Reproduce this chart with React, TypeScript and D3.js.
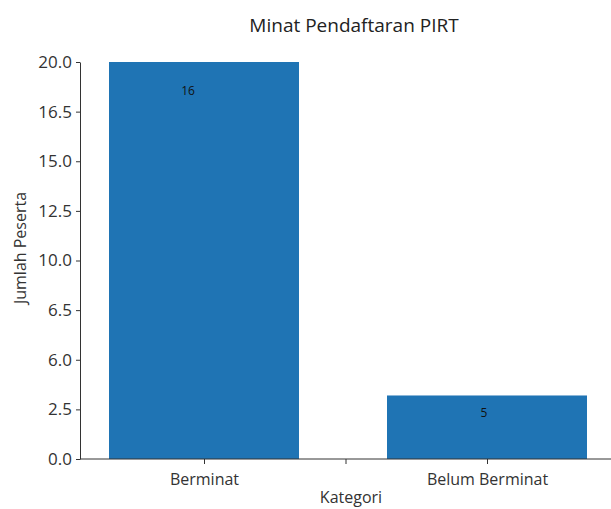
import React, { useEffect, useRef } from 'react';
import * as d3 from 'd3';

// chart values
const categories = ['Berminat', 'Belum Berminat'];
const xTickLabels = ['Berminat', '', 'Belum Berminat'];
const barValues = [20, 3.2];
const barLabels = ['16', '5'];
const yTickValues = [0, 2.5, 5, 7.5, 10, 12.5, 15, 17.5, 20];
const yTickLabels = ['0.0', '2.5', '6.0', '6.5', '10.0', '12.5', '15.0', '16.5', '20.0'];

const W = 611;
const H = 509;
const FONT = '"Open Sans", "Noto Sans", sans-serif';
const barWidths = [190, 200];
const labelShift = [[-16, 29], [-3, 17]];

const App = () => {
    const chartRef = useRef<SVGSVGElement>(null);

    useEffect(() => {
        const svg = d3.select(chartRef.current);
        svg.selectAll('*').remove();

        const xScale = d3.scalePoint<string>()
            .domain(xTickLabels.map((d, i) => i + ':' + d))
            .range([204, 487]);
        const xOf = (name: string) => xScale(xTickLabels.indexOf(name) + ':' + name) as number;

        const yScale = d3.scaleLinear()
            .domain([0, 20])
            .range([459, 62]);

        // bars
        svg.selectAll('.bar')
            .data(categories)
            .enter()
            .append('rect')
            .attr('class', 'bar')
            .attr('x', (d, i) => xOf(d) - barWidths[i] / 2)
            .attr('width', (d, i) => barWidths[i])
            .attr('y', (d, i) => yScale(barValues[i]))
            .attr('height', (d, i) => yScale(0) - yScale(barValues[i]))
            .attr('fill', '#1f74b4');

        // count labels
        svg.selectAll('.count')
            .data(categories)
            .enter()
            .append('text')
            .attr('x', (d, i) => xOf(d) + labelShift[i][0])
            .attr('y', (d, i) => yScale(barValues[i]) + labelShift[i][1])
            .attr('dy', '0.35em')
            .attr('text-anchor', 'middle')
            .style('font-family', FONT)
            .style('font-size', '12px')
            .attr('fill', '#111')
            .text((d, i) => barLabels[i]);

        // y axis
        const yAxis = svg.append('g')
            .attr('transform', 'translate(80,0)')
            .call(d3.axisLeft(yScale)
                .tickValues(yTickValues)
                .tickFormat((d, i) => yTickLabels[i])
                .tickSize(4)
                .tickSizeOuter(0)
                .tickPadding(4));
        yAxis.selectAll('path, line').attr('stroke', '#333');
        yAxis.selectAll('text')
            .style('font-family', FONT)
            .style('font-size', '17px')
            .attr('fill', '#333');

        // x axis
        const xAxis = svg.append('g')
            .attr('transform', 'translate(0,459)')
            .call(d3.axisBottom(xScale)
                .tickFormat(d => d.split(':')[1])
                .tickSize(5)
                .tickSizeOuter(0));
        xAxis.select('.domain').remove();
        xAxis.append('line')
            .attr('x1', 80)
            .attr('x2', W)
            .attr('stroke', '#333');
        xAxis.selectAll('line').attr('stroke', '#333');
        xAxis.selectAll('text')
            .attr('y', 26)
            .attr('dy', 0)
            .style('font-family', FONT)
            .style('font-size', '16px')
            .attr('fill', '#333');

        // titles
        svg.append('text')
            .attr('x', 354)
            .attr('y', 32)
            .attr('text-anchor', 'middle')
            .style('font-family', FONT)
            .style('font-size', '19px')
            .attr('fill', '#222')
            .text('Minat Pendaftaran PIRT');

        svg.append('text')
            .attr('x', 351)
            .attr('y', 503)
            .attr('text-anchor', 'middle')
            .style('font-family', FONT)
            .style('font-size', '16px')
            .attr('fill', '#333')
            .text('Kategori');

        svg.append('text')
            .attr('transform', 'rotate(-90)')
            .attr('x', -248)
            .attr('y', 26)
            .attr('text-anchor', 'middle')
            .style('font-family', FONT)
            .style('font-size', '16px')
            .attr('fill', '#333')
            .text('Jumlah Peserta');
    }, []);

    return (
        <svg
            ref={chartRef}
            width={W}
            height={H}
            style={{ position: 'absolute', top: 0, left: 0, background: '#fff' }}
        />
    );
};

export default App;
